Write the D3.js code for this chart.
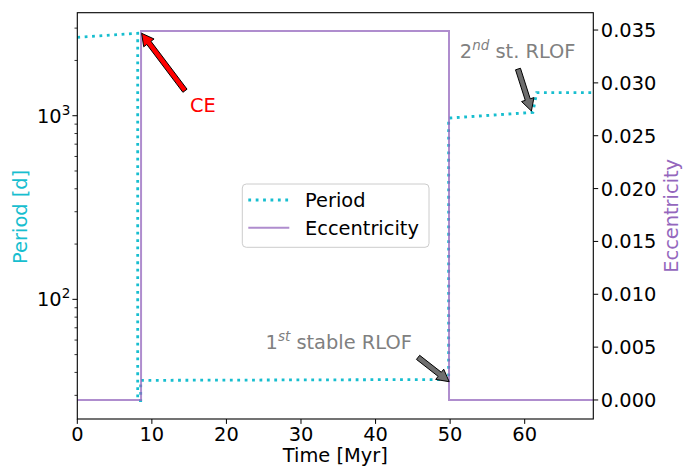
<!DOCTYPE html>
<html><head><meta charset="utf-8">
<script src="https://cdn.jsdelivr.net/npm/d3@7"></script>
<style>body{margin:0;background:#fff}svg{display:block}text{font-family:"DejaVu Sans",sans-serif}</style>
</head><body><svg id="c" width="687" height="466"></svg>
<script>
// ---- data ----
const periodTime = [0, 8.1, 8.1, 8.5, 8.5, 49.8, 49.8, 61.1, 61.6, 69.2];
const periodDays = [2673, 2812, 28.1, 28.1, 36.2, 36.6, 971, 1043, 1335, 1335];
const eccTime = [0, 8.55, 8.55, 49.85, 49.85, 69.2];
const eccValues = [0, 0, 0.0349, 0.0349, 0, 0];
const xTicks = [0, 10, 20, 30, 40, 50, 60];
const eccTicks = [0, 0.005, 0.01, 0.015, 0.02, 0.025, 0.03, 0.035];
const periodMajor = [100, 1000];
const periodMajorLabels = ["2", "3"];
const periodMinor = [30, 40, 50, 60, 70, 80, 90, 200, 300, 400, 500, 600, 700, 800, 900, 2000, 3000];
const annotations = [
  {text: "CE", sup: null, rest: null, color: "#ff0000", fill: "#ff0000", tx: 15.1, tp: 1047, ax: 14.44, ap: 1368, bx: 8.63, bp: 2811},
  {text: "2", sup: "nd", rest: " st. RLOF", color: "#808080", fill: "#6e6e6e", tx: 51.3, tp: 2055, ax: 59.1, ap: 1796, bx: 60.9, bp: 1061},
  {text: "1", sup: "st", rest: " stable RLOF", color: "#808080", fill: "#6e6e6e", tx: 25.25, tp: 53.5, ax: 45.7, ap: 48.3, bx: 49.87, bp: 35.6}
];

const L = 77.3, R = 593.3, T = 12.7, B = 419;
const FS = 19.4;
const svg = d3.select("#c");
const x = d3.scaleLinear().domain([0, 69.2]).range([L, R]);
const yP = d3.scaleLog().domain([22.3, 3640]).range([B, T]);
const yE = d3.scaleLinear().domain([-0.0018, 0.03664]).range([B, T]);

const cyan = "#17becf", purple = "#9467bd";

// lines
svg.append("clipPath").attr("id", "pc").append("rect").attr("x", L).attr("y", T).attr("width", R - L).attr("height", B - T);
const g = svg.append("g").attr("clip-path", "url(#pc)");
const pData = periodTime.map((t, i) => [t, periodDays[i]]);
const eData = eccTime.map((t, i) => [t, eccValues[i]]);
g.append("path").attr("d", d3.line().x(d => x(d[0])).y(d => yP(d[1]))(pData))
  .attr("fill", "none").attr("stroke", cyan).attr("stroke-width", 2.8).attr("stroke-dasharray", "2.8 4.6");
g.append("path").attr("d", d3.line().x(d => x(d[0])).y(d => yE(d[1]))(eData))
  .attr("fill", "none").attr("stroke", purple).attr("stroke-opacity", 0.75).attr("stroke-width", 2);

// spines
svg.append("rect").attr("x", L).attr("y", T).attr("width", R - L).attr("height", B - T)
  .attr("fill", "none").attr("stroke", "#000").attr("stroke-width", 1.1);

// x axis
xTicks.forEach(t => {
  svg.append("line").attr("x1", x(t)).attr("x2", x(t)).attr("y1", B).attr("y2", B + 4.9).attr("stroke", "#000").attr("stroke-width", 1);
  svg.append("text").attr("x", x(t)).attr("y", B + 21.5).attr("text-anchor", "middle").attr("font-size", FS).attr("fill", "#000").text(t);
});
svg.append("text").attr("x", (L + R) / 2).attr("y", 461.5).attr("text-anchor", "middle").attr("font-size", FS).text("Time [Myr]");

// left log axis
periodMajor.forEach((p, i) => {
  svg.append("line").attr("x1", L - 4.9).attr("x2", L).attr("y1", yP(p)).attr("y2", yP(p)).attr("stroke", "#000");
  const tx = svg.append("text").attr("x", L - 7).attr("y", yP(p) + 7).attr("text-anchor", "end").attr("font-size", FS);
  tx.append("tspan").text("10");
  tx.append("tspan").attr("font-size", 13.5).attr("dy", -8).text(periodMajorLabels[i]);
});
periodMinor.forEach(p => {
  if (yP(p) < T || yP(p) > B) return;
  svg.append("line").attr("x1", L - 2.8).attr("x2", L).attr("y1", yP(p)).attr("y2", yP(p)).attr("stroke", "#000").attr("stroke-width", 0.8);
});
svg.append("text").attr("transform", `translate(20.5,${(T + B) / 2 + 1}) rotate(-90)`).attr("text-anchor", "middle")
  .attr("dominant-baseline", "central").attr("font-size", FS).attr("fill", cyan).text("Period [d]");

// right axis
eccTicks.forEach(e => {
  svg.append("line").attr("x1", R).attr("x2", R + 4.9).attr("y1", yE(e)).attr("y2", yE(e)).attr("stroke", "#000");
  svg.append("text").attr("x", R + 7.5).attr("y", yE(e) + 7).attr("font-size", FS).text(d3.format(".3f")(e));
});
svg.append("text").attr("transform", `translate(671.5,${(T + B) / 2}) rotate(-90)`).attr("text-anchor", "middle")
  .attr("dominant-baseline", "central").attr("font-size", FS).attr("fill", purple).text("Eccentricity");

// annotations
function arrow(x0, y0, x1, y1, fill) {
  const dx = x1 - x0, dy = y1 - y0, len = Math.hypot(dx, dy);
  const ux = dx / len, uy = dy / len, nx = -uy, ny = ux;
  const hl = 12, hw = 6.5, sw = 2.6;
  const bx = x1 - ux * hl, by = y1 - uy * hl;
  const pts = [
    [x0 + nx * sw, y0 + ny * sw], [bx + nx * sw, by + ny * sw], [bx + nx * hw, by + ny * hw], [x1, y1],
    [bx - nx * hw, by - ny * hw], [bx - nx * sw, by - ny * sw], [x0 - nx * sw, y0 - ny * sw]
  ];
  svg.append("polygon").attr("points", pts.map(p => p.join(",")).join(" "))
    .attr("fill", fill).attr("stroke", "#000").attr("stroke-width", 1).attr("stroke-linejoin", "miter");
}
annotations.forEach(a => {
  arrow(x(a.ax), yP(a.ap), x(a.bx), yP(a.bp), a.fill);
  const t = svg.append("text").attr("x", x(a.tx)).attr("y", yP(a.tp)).attr("font-size", FS).attr("fill", a.color);
  t.append("tspan").text(a.text);
  if (a.sup) {
    t.append("tspan").attr("font-size", 13.5).attr("font-style", "italic").attr("dy", -8).text(a.sup);
    t.append("tspan").attr("dy", 8).text(a.rest);
  }
});

// legend
const lg = svg.append("g");
lg.append("rect").attr("x", 242.3).attr("y", 184).attr("width", 186.7).attr("height", 63.3).attr("rx", 4)
  .attr("fill", "#fff").attr("fill-opacity", 0.8).attr("stroke", "#cccccc").attr("stroke-width", 1);
lg.append("line").attr("x1", 248.3).attr("x2", 289.3).attr("y1", 200).attr("y2", 200)
  .attr("stroke", cyan).attr("stroke-width", 2.8).attr("stroke-dasharray", "2.8 4.6");
lg.append("line").attr("x1", 248.3).attr("x2", 289.3).attr("y1", 227.7).attr("y2", 227.7)
  .attr("stroke", purple).attr("stroke-opacity", 0.75).attr("stroke-width", 2);
lg.append("text").attr("x", 305).attr("y", 207).attr("font-size", FS).text("Period");
lg.append("text").attr("x", 305).attr("y", 234.7).attr("font-size", FS).text("Eccentricity");
</script></body></html>
